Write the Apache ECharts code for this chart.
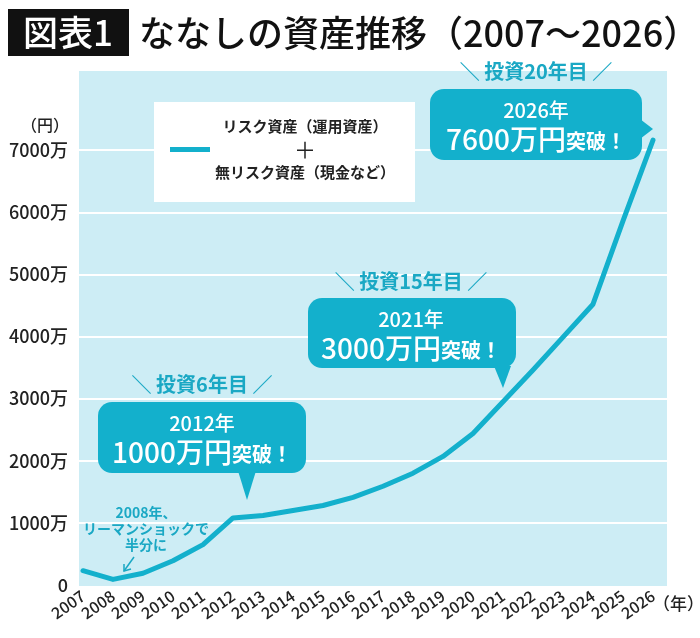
<!DOCTYPE html>
<html>
<head>
<meta charset="utf-8">
<title>ななしの資産推移</title>
<script src="https://cdn.jsdelivr.net/npm/echarts@6/dist/echarts.min.js"></script>
<style>
  html, body { margin: 0; padding: 0; background: #fff; }
  #main { width: 700px; height: 638px; }
</style>
</head>
<body>
<div id="main"></div>
<script type="text/javascript">
    // 年（横軸）
    var years = ['2007', '2008', '2009', '2010', '2011', '2012', '2013', '2014', '2015', '2016',
        '2017', '2018', '2019', '2020', '2021', '2022', '2023', '2024', '2025', '2026'];
    // 資産額（万円）: リスク資産 + 無リスク資産
    var assets = [230, 90, 190, 390, 650, 1080, 1120, 1200, 1280, 1410,
        1590, 1800, 2070, 2440, 2950, 3460, 3990, 4520, 5860, 7160];
    // 縦軸
    var yMin = 0, yMax = 8000, yStep = 1000;

    var FONT = '"Noto Sans CJK JP", "Noto Sans", sans-serif';
    var TEAL = '#13b0cc';
    var TEAL_TEXT = '#1aa8c4';
    var BG = '#cdedf5';

    // callout bubble drawn as graphic elements
    function bubble(x, y, w, h, pointer, cx, yearText, amount, headline, headY) {
        return [
            {type: 'rect', z: 100, shape: {x: x, y: y, width: w, height: h, r: 14}, style: {fill: TEAL}},
            {type: 'polygon', z: 100, shape: {points: pointer}, style: {fill: TEAL}},
            {type: 'text', z: 101, style: {
                x: cx, y: y + 21, text: yearText, align: 'center', verticalAlign: 'middle',
                fill: '#fff', font: '500 20px ' + FONT
            }},
            {type: 'text', z: 101, style: {
                x: cx, y: y + 50, text: '{b|' + amount + '}{s|突破！}', align: 'center', verticalAlign: 'middle',
                fill: '#fff',
                rich: {
                    b: {fontSize: 28, fontWeight: 500, fontFamily: FONT, fill: '#fff', color: '#fff'},
                    s: {fontSize: 20, fontWeight: 'bold', fontFamily: FONT, fill: '#fff', color: '#fff', padding: [5, 0, 0, 0]}
                }
            }},
            {type: 'text', z: 101, style: {
                x: cx, y: headY, text: '＼ ' + headline + ' ／', align: 'center', verticalAlign: 'middle',
                fill: TEAL_TEXT, font: 'bold 20px ' + FONT
            }}
        ];
    }

    var graphics = [
        // plot background
        {type: 'rect', z: -1, silent: true, shape: {x: 79, y: 71, width: 588, height: 515}, style: {fill: BG}},
        // title
        {type: 'rect', shape: {x: 8, y: 9, width: 121, height: 47}, style: {fill: '#111'}},
        {type: 'text', style: {x: 68, y: 33, text: '図表1', align: 'center', verticalAlign: 'middle',
            fill: '#fff', font: '500 35px ' + FONT}},
        {type: 'text', style: {x: 139, y: 33, text: 'ななしの資産推移（2007〜2026）', verticalAlign: 'middle',
            fill: '#111', font: '500 36px ' + FONT}},
        // unit labels
        {type: 'text', style: {x: 69, y: 125, text: '（円）', align: 'right', verticalAlign: 'middle',
            fill: '#222', font: '500 16px ' + FONT}},
        {type: 'text', style: {x: 653, y: 604, text: '（年）', verticalAlign: 'middle',
            fill: '#222', font: '500 17px ' + FONT}},
        // 2008 note
        {type: 'text', z: 100, style: {x: 146, y: 529, text: '2008年、\nリーマンショックで\n半分に',
            align: 'center', verticalAlign: 'middle', lineHeight: 16,
            fill: TEAL_TEXT, font: 'bold 14px ' + FONT}},
        {type: 'line', z: 100, shape: {x1: 134, y1: 557, x2: 124, y2: 571}, style: {stroke: TEAL_TEXT, lineWidth: 1.5}},
        {type: 'polyline', z: 100, shape: {points: [[124, 564], [124, 571], [131, 569]]}, style: {stroke: TEAL_TEXT, lineWidth: 1.5, fill: null}}
    ];
    graphics = graphics
        .concat(bubble(98, 402, 208, 71, [[238, 471], [256, 471], [247, 500]], 202, '2012年', '1000万円', '投資6年目', 384))
        .concat(bubble(308, 298, 208, 70, [[494, 366], [511, 366], [503, 388]], 411, '2021年', '3000万円', '投資15年目', 281))
        .concat(bubble(430, 89, 212, 71, [[640, 119], [640, 139], [653, 129]], 536, '2026年', '7600万円', '投資20年目', 71));

    var myChart = echarts.init(document.getElementById('main'));
    var option = {
        animation: false,
        textStyle: {fontFamily: FONT},
        grid: [
            {left: 79, right: 33, top: 88, bottom: 53},
            {left: 83, right: 47, top: 88, bottom: 53}
        ],
        legend: {
            left: 154, top: 102,
            padding: [17, 20, 22, 16],
            backgroundColor: '#fff',
            borderRadius: 0,
            selectedMode: false,
            icon: 'rect',
            itemWidth: 40, itemHeight: 5,
            itemGap: 0,
            data: ['assets'],
            formatter: function () {
                return '{a|リスク資産（運用資産）}\n{p|＋}\n{a|無リスク資産（現金など）}';
            },
            textStyle: {
                rich: {
                    a: {fontSize: 15, fontWeight: 'bold', color: '#222', fontFamily: FONT, lineHeight: 23, align: 'center'},
                    p: {fontSize: 22, color: '#222', fontFamily: FONT, lineHeight: 23, align: 'center'}
                }
            }
        },
        xAxis: [
            {gridIndex: 0, type: 'value', min: 0, max: 1, show: false},
            {
                gridIndex: 1, type: 'category', data: years, boundaryGap: false,
                axisLine: {show: false}, axisTick: {show: false},
                axisLabel: {interval: 0, rotate: 35, margin: 9, fontSize: 16, fontWeight: 500, color: '#222', fontFamily: FONT}
            }
        ],
        yAxis: [
            {
                gridIndex: 0, type: 'value', min: yMin, max: yMax, interval: yStep,
                axisLine: {show: false}, axisTick: {show: false},
                axisLabel: {
                    showMaxLabel: false, margin: 11, fontSize: 18, fontWeight: 500, color: '#222', fontFamily: FONT,
                    formatter: function (v) { return v === 0 ? '0' : v + '万'; }
                },
                splitLine: {show: true, showMinLine: false, showMaxLine: false, lineStyle: {color: '#fff', width: 2}}
            },
            {gridIndex: 1, type: 'value', min: yMin, max: yMax, show: false}
        ],
        series: [
            {type: 'line', xAxisIndex: 0, yAxisIndex: 0, data: [], silent: true},
            {
                name: 'assets', type: 'line', xAxisIndex: 1, yAxisIndex: 1,
                data: assets, showSymbol: false, symbol: 'none', z: 3,
                itemStyle: {color: TEAL},
                lineStyle: {color: TEAL, width: 5, cap: 'round', join: 'round'}
            }
        ],
        graphic: graphics
    };
    myChart.setOption(option);
</script>
</body>
</html>
